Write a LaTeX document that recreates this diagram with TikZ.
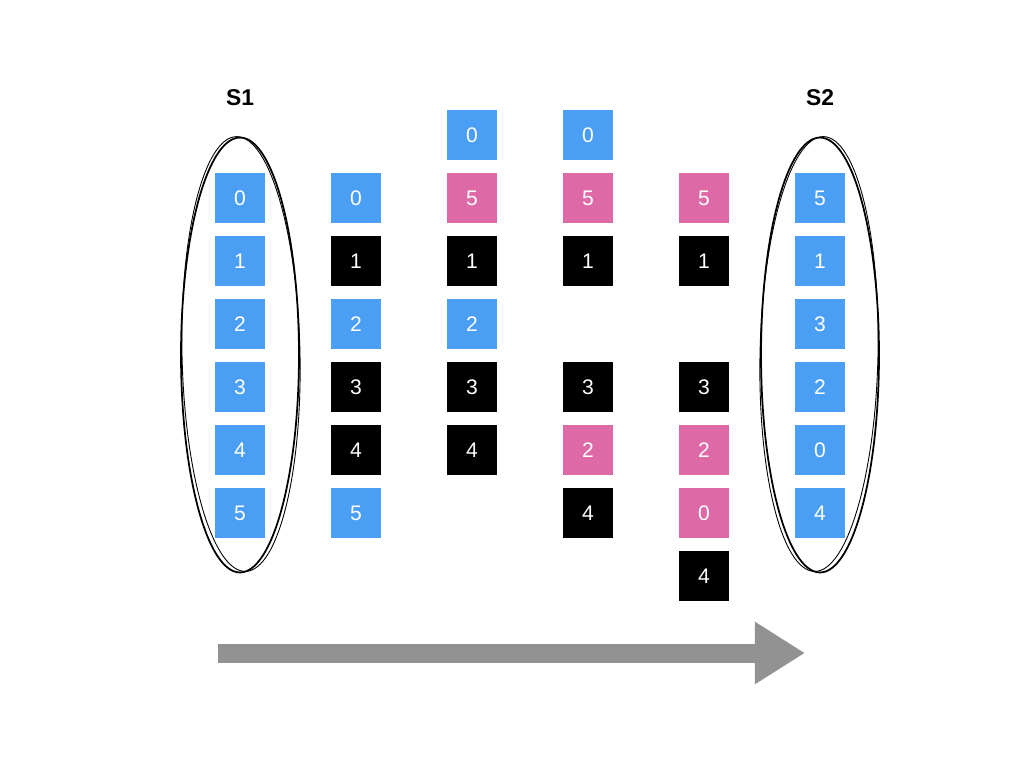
\documentclass[tikz,border=0pt]{standalone}
\usepackage{fontspec}
\setmainfont{Liberation Sans}
\usetikzlibrary{arrows.meta,shapes.geometric}
\definecolor{Sky}{HTML}{4A9FF5}
\definecolor{Rose}{HTML}{DD6AA6}
\definecolor{Slate}{HTML}{929292}

\begin{document}
\begin{tikzpicture}[x=0.02cm,y=-0.02cm,
  cell/.style={minimum size=1cm,inner sep=0pt,text=white,font=\fontsize{12}{14}\selectfont},
  setname/.style={font=\bfseries\fontsize{13}{15}\selectfont},
  setring/.style={draw,ellipse,line width=1pt,minimum width=2.36cm,minimum height=8.7cm,inner sep=0pt}]
\useasboundingbox (0,0) rectangle (1024,768);
\fill[white] (0,0) rectangle (1024,768);
\foreach \i/\j/\t/\col in {1/1/0/Sky,1/2/1/Sky,1/3/2/Sky,1/4/3/Sky,1/5/4/Sky,1/6/5/Sky,
  2/1/0/Sky,2/2/1/black,2/3/2/Sky,2/4/3/black,2/5/4/black,2/6/5/Sky,
  3/0/0/Sky,3/1/5/Rose,3/2/1/black,3/3/2/Sky,3/4/3/black,3/5/4/black,
  4/0/0/Sky,4/1/5/Rose,4/2/1/black,4/4/3/black,4/5/2/Rose,4/6/4/black,
  5/1/5/Rose,5/2/1/black,5/4/3/black,5/5/2/Rose,5/6/0/Rose,5/7/4/black,
  6/1/5/Sky,6/2/1/Sky,6/3/3/Sky,6/4/2/Sky,6/5/0/Sky,6/6/4/Sky}
  \node[cell,fill=\col] (c\i-\j) at ({240+116*(\i-1)},{135+63*\j}) {\t};
\node[setring] (set1) at (240,355) {};
\node[setring,line width=0.5pt,rotate=1.2] at (241,354) {};
\node[setring] (set2) at (820,355) {};
\node[setring,line width=0.5pt,rotate=-1.2] at (819,354) {};
\node[setname] (s1) at (240,98) {S1};
\node[setname] (s2) at (820,98) {S2};
\coordinate (from) at (218,653);
\coordinate (to) at (805,653);
\draw[Slate,line width=10.8pt,-{Triangle[length=28.5pt,width=33.5pt]}] (from) -- (to);
\end{tikzpicture}
\end{document}
